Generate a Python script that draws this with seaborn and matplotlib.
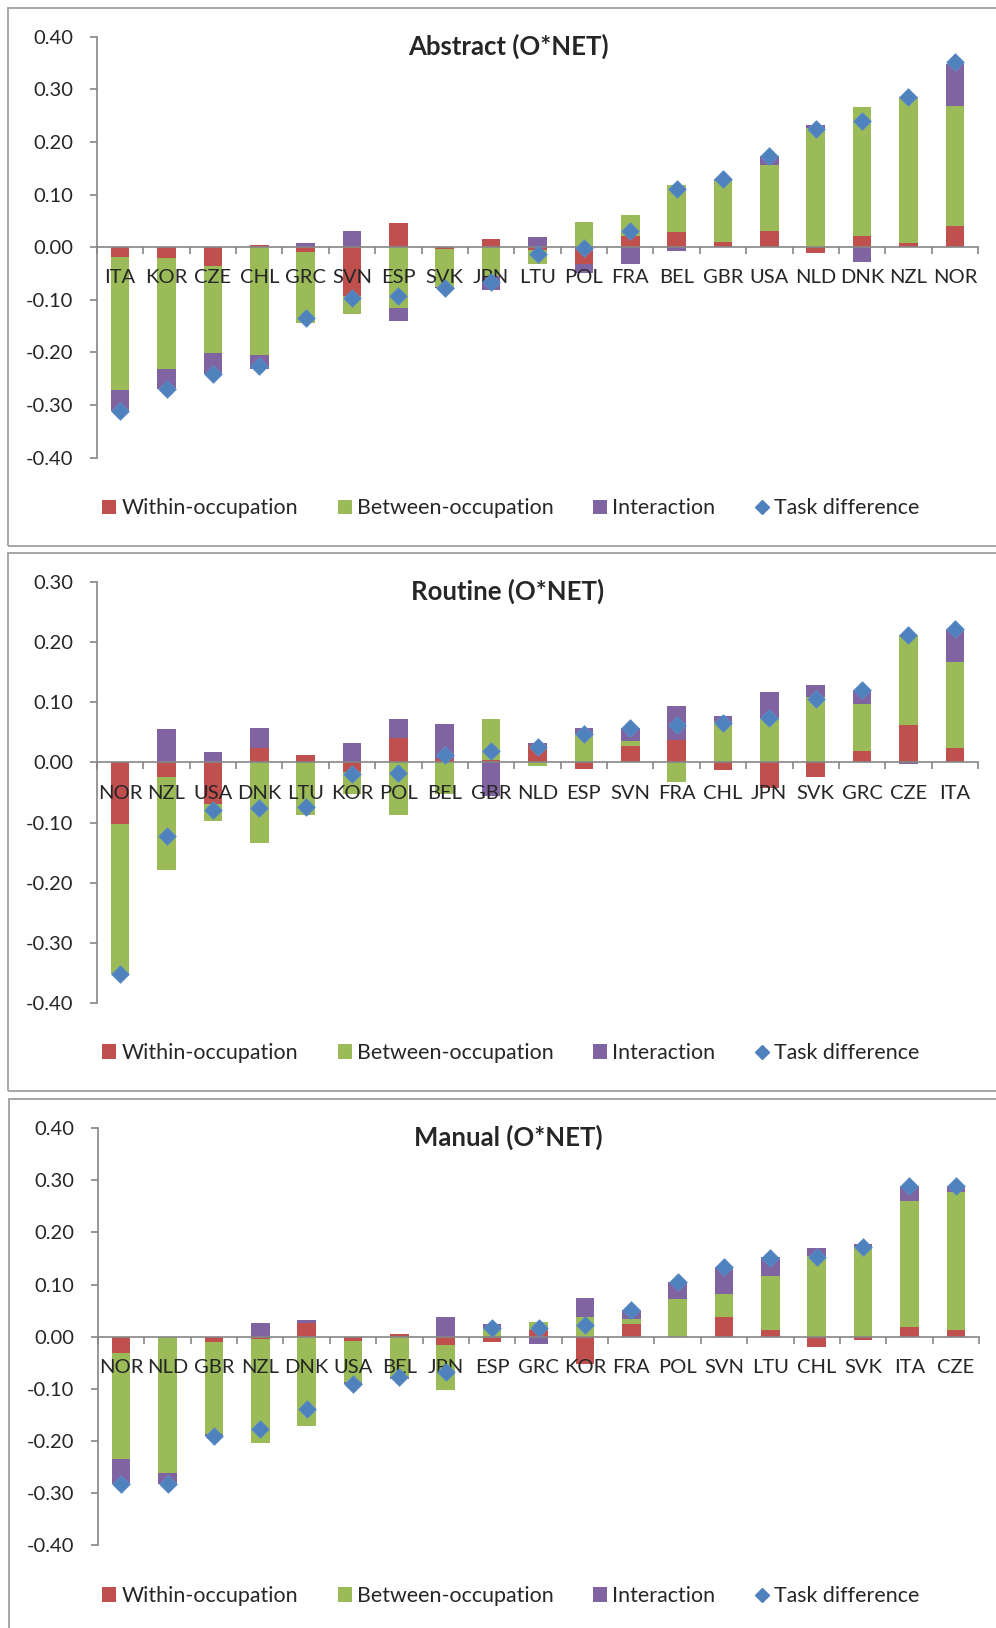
import numpy as np
import pandas as pd
import matplotlib
matplotlib.use("Agg")
import matplotlib.pyplot as plt
import seaborn as sns
from matplotlib.patches import Rectangle, Patch
from matplotlib.lines import Line2D
from matplotlib.ticker import FixedLocator

# ---------------- data ----------------
series_names = ["Within-occupation", "Between-occupation", "Interaction", "Task difference"]

countries_abs = ["ITA", "KOR", "CZE", "CHL", "GRC", "SVN", "ESP", "SVK", "JPN", "LTU",
                 "POL", "FRA", "BEL", "GBR", "USA", "NLD", "DNK", "NZL", "NOR"]
within_abs = [-0.019, -0.021, -0.035, 0.005, -0.009, -0.092, 0.046, -0.003, 0.016, -0.006,
              -0.032, 0.021, 0.029, 0.009, 0.030, -0.011, 0.022, 0.008, 0.041]
between_abs = [-0.253, -0.210, -0.166, -0.205, -0.135, -0.035, -0.115, -0.072, -0.055, -0.026,
               0.048, 0.040, 0.090, 0.117, 0.126, 0.226, 0.244, 0.276, 0.227]
inter_abs = [-0.040, -0.038, -0.039, -0.026, 0.008, 0.031, -0.025, -0.003, -0.027, 0.019,
             -0.017, -0.032, -0.008, 0.003, 0.018, 0.007, -0.028, 0.002, 0.081]
total_abs = [-0.312, -0.269, -0.240, -0.226, -0.134, -0.096, -0.093, -0.078, -0.066, -0.012,
             -0.001, 0.030, 0.111, 0.129, 0.174, 0.224, 0.240, 0.286, 0.351]

countries_rou = ["NOR", "NZL", "USA", "DNK", "LTU", "KOR", "POL", "BEL", "GBR", "NLD",
                 "ESP", "SVN", "FRA", "CHL", "JPN", "SVK", "GRC", "CZE", "ITA"]
within_rou = [-0.102, -0.024, -0.069, 0.024, 0.012, -0.016, 0.041, 0.005, 0.004, 0.029,
              -0.011, 0.027, 0.038, -0.013, -0.043, -0.024, 0.019, 0.062, 0.024]
between_rou = [-0.250, -0.155, -0.029, -0.134, -0.087, -0.036, -0.088, -0.053, 0.069, -0.006,
               0.047, 0.008, -0.033, 0.068, 0.072, 0.109, 0.078, 0.151, 0.144]
inter_rou = [0.0, 0.056, 0.018, 0.034, 0.0, 0.032, 0.031, 0.059, -0.055, 0.003,
             0.010, 0.023, 0.056, 0.009, 0.045, 0.020, 0.024, -0.003, 0.054]
total_rou = [-0.352, -0.123, -0.079, -0.075, -0.074, -0.020, -0.017, 0.012, 0.019, 0.026,
             0.047, 0.057, 0.062, 0.065, 0.074, 0.105, 0.121, 0.213, 0.222]

countries_man = ["NOR", "NLD", "GBR", "NZL", "DNK", "USA", "BEL", "JPN", "ESP", "GRC",
                 "KOR", "FRA", "POL", "SVN", "LTU", "CHL", "SVK", "ITA", "CZE"]
within_man = [-0.032, 0.0, -0.011, -0.004, 0.027, -0.009, 0.005, -0.016, -0.011, 0.012,
              -0.052, 0.024, 0.0, 0.037, 0.012, -0.019, -0.006, 0.019, 0.012]
between_man = [-0.203, -0.262, -0.176, -0.201, -0.171, -0.078, -0.078, -0.087, 0.015, 0.017,
               0.037, 0.010, 0.072, 0.044, 0.104, 0.155, 0.173, 0.242, 0.266]
inter_man = [-0.048, -0.020, -0.004, 0.027, 0.005, -0.004, -0.004, 0.038, 0.010, -0.015,
             0.037, 0.018, 0.033, 0.052, 0.037, 0.016, 0.005, 0.029, 0.012]
total_man = [-0.283, -0.282, -0.191, -0.177, -0.138, -0.091, -0.077, -0.068, 0.016, 0.016,
             0.022, 0.051, 0.104, 0.133, 0.151, 0.152, 0.172, 0.290, 0.290]

titles = ["Abstract (O*NET)", "Routine (O*NET)", "Manual (O*NET)"]
yticks_abs = [0.40, 0.30, 0.20, 0.10, 0.00, -0.10, -0.20, -0.30, -0.40]
yticks_rou = [0.30, 0.20, 0.10, 0.00, -0.10, -0.20, -0.30, -0.40]
yticks_man = [0.40, 0.30, 0.20, 0.10, 0.00, -0.10, -0.20, -0.30, -0.40]

# ---------------- style ----------------
sns.set_theme(style="white")
plt.rcParams["font.family"] = ["Lato", "DejaVu Sans"]
plt.rcParams["axes.unicode_minus"] = False

RED, GREEN, PURPLE, BLUE = "#C0504D", "#9BBB59", "#8064A2", "#4F81BD"
AXC = "#868686"
TXT = "#262626"
BORDER = "#A6A6A6"

W, H = 996, 1628
fig = plt.figure(figsize=(W / 100, H / 100), dpi=100, facecolor="white")


def frac(x0, ytop, x1, ybot):
    return [x0 / W, 1 - ybot / H, (x1 - x0) / W, (ybot - ytop) / H]


panels = [
    dict(c=countries_abs, w=within_abs, b=between_abs, i=inter_abs, t=total_abs,
         yt=yticks_abs, box=(97, 36.7, 978, 457.7), border=(8, 8, 1010, 546),
         title_y=55, leg_y=508.5),
    dict(c=countries_rou, w=within_rou, b=between_rou, i=inter_rou, t=total_rou,
         yt=yticks_rou, box=(97, 582.3, 978, 1002.7), border=(8, 553, 1010, 1091),
         title_y=600, leg_y=1053),
    dict(c=countries_man, w=within_man, b=between_man, i=inter_man, t=total_man,
         yt=yticks_man, box=(98, 1128.3, 979, 1545), border=(9, 1099, 1010, 1650),
         title_y=1146, leg_y=1596),
]

for k, p in enumerate(panels):
    # panel border
    bx0, by0, bx1, by1 = p["border"]
    fig.add_artist(Rectangle((bx0 / W, 1 - by1 / H), (bx1 - bx0) / W, (by1 - by0) / H,
                             transform=fig.transFigure, fill=False,
                             edgecolor=BORDER, linewidth=1.4))

    ax = fig.add_axes(frac(*p["box"]))
    ax.patch.set_alpha(0)
    ax.set_axisbelow(False)
    n = len(p["c"])
    x = np.arange(n)
    pos_b = np.zeros(n)
    neg_b = np.zeros(n)
    for vals, col in zip([p["w"], p["b"], p["i"]], [RED, GREEN, PURPLE]):
        v = np.array(vals, dtype=float)
        bottom = np.where(v >= 0, pos_b, neg_b)
        ax.bar(x, v, bottom=bottom, width=0.4, color=col, linewidth=0, zorder=1)
        pos_b += np.where(v > 0, v, 0)
        neg_b += np.where(v < 0, v, 0)

    df = pd.DataFrame({"x": x, "total": p["t"]})
    sns.scatterplot(data=df, x="x", y="total", marker="D", s=80, color=BLUE,
                    edgecolor="#5B8DC9", linewidth=0.6, zorder=4, ax=ax, legend=False)

    yt = p["yt"]
    ax.set_xlim(-0.5, n - 0.5)
    ax.set_ylim(min(yt), max(yt))
    ax.set_yticks(yt)
    ax.set_yticklabels([f"{t:.2f}" for t in yt])
    ax.set_xticks(x)
    ax.set_xticklabels(p["c"])
    ax.set_xlabel("")
    ax.set_ylabel("")
    ax.xaxis.set_minor_locator(FixedLocator(np.arange(-0.5, n, 1.0)))
    ax.tick_params(axis="x", which="major", length=0, pad=16, labelsize=14.5, labelcolor=TXT)
    ax.tick_params(axis="x", which="minor", length=5, width=1.2, color=AXC, direction="out",
                   bottom=True)
    ax.tick_params(axis="y", which="major", length=5, width=1.2, color=AXC, direction="out",
                   left=True, pad=12, labelsize=14.5, labelcolor=TXT)
    ax.spines["bottom"].set_position(("data", 0))
    for s in ["top", "right"]:
        ax.spines[s].set_visible(False)
    for s in ["left", "bottom"]:
        ax.spines[s].set_color(AXC)
        ax.spines[s].set_linewidth(1.2)
    ax.grid(False)

    fig.text(508 / W, 1 - p["title_y"] / H, titles[k], ha="center", va="baseline",
             fontsize=18.5, fontweight="bold", color=TXT)

    handles = [Patch(facecolor=RED, edgecolor="none"),
               Patch(facecolor=GREEN, edgecolor="none"),
               Patch(facecolor=PURPLE, edgecolor="none"),
               Line2D([], [], linestyle="none", marker="D", markersize=7,
                      markerfacecolor=BLUE, markeredgecolor=BLUE)]
    fig.legend(handles, series_names, loc="center", ncol=4,
               bbox_to_anchor=(511 / W, 1 - p["leg_y"] / H), frameon=False,
               fontsize=15.4, handlelength=0.65, handleheight=0.65, handletextpad=0.25,
               columnspacing=1.85, labelcolor=TXT, borderpad=0, borderaxespad=0)

fig.savefig("out.png", dpi=100, facecolor="white")
